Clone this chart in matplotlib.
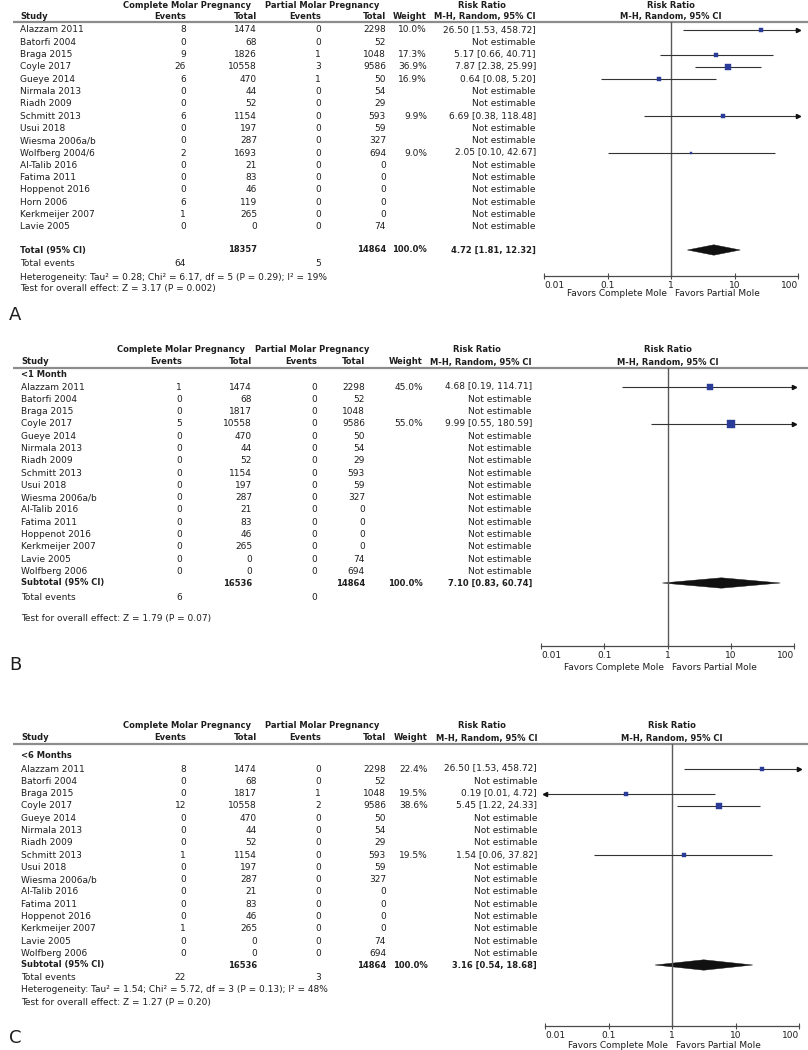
import matplotlib
matplotlib.use("Agg")
import matplotlib.pyplot as plt
from matplotlib.patches import Polygon

# ---------------- DATA ----------------
# Panel A (overall)
a_studies = ["Alazzam 2011", "Batorfi 2004", "Braga 2015", "Coyle 2017", "Gueye 2014",
             "Nirmala 2013", "Riadh 2009", "Schmitt 2013", "Usui 2018", "Wiesma 2006a/b",
             "Wolfberg 2004/6", "Al-Talib 2016", "Fatima 2011", "Hoppenot 2016", "Horn 2006",
             "Kerkmeijer 2007", "Lavie 2005"]
a_ev_c = [8, 0, 9, 26, 6, 0, 0, 6, 0, 0, 2, 0, 0, 0, 6, 1, 0]
a_tot_c = [1474, 68, 1826, 10558, 470, 44, 52, 1154, 197, 287, 1693, 21, 83, 46, 119, 265, 0]
a_ev_p = [0, 0, 1, 3, 1, 0, 0, 0, 0, 0, 0, 0, 0, 0, 0, 0, 0]
a_tot_p = [2298, 52, 1048, 9586, 50, 54, 29, 593, 59, 327, 694, 0, 0, 0, 0, 0, 74]
a_weight = [10.0, None, 17.3, 36.9, 16.9, None, None, 9.9, None, None, 9.0, None, None, None, None, None, None]
a_rr = [26.50, None, 5.17, 7.87, 0.64, None, None, 6.69, None, None, 2.05, None, None, None, None, None, None]
a_lo = [1.53, None, 0.66, 2.38, 0.08, None, None, 0.38, None, None, 0.10, None, None, None, None, None, None]
a_hi = [458.72, None, 40.71, 25.99, 5.20, None, None, 118.48, None, None, 42.67, None, None, None, None, None, None]
a_total = (18357, 14864, 4.72, 1.81, 12.32)
a_events = (64, 5)
a_het = "Heterogeneity: Tau² = 0.28; Chi² = 6.17, df = 5 (P = 0.29); I² = 19%"
a_test = "Test for overall effect: Z = 3.17 (P = 0.002)"

# Panel B (<1 Month)
b_group = "<1 Month"
b_studies = ["Alazzam 2011", "Batorfi 2004", "Braga 2015", "Coyle 2017", "Gueye 2014",
             "Nirmala 2013", "Riadh 2009", "Schmitt 2013", "Usui 2018", "Wiesma 2006a/b",
             "Al-Talib 2016", "Fatima 2011", "Hoppenot 2016", "Kerkmeijer 2007", "Lavie 2005",
             "Wolfberg 2006"]
b_ev_c = [1, 0, 0, 5, 0, 0, 0, 0, 0, 0, 0, 0, 0, 0, 0, 0]
b_tot_c = [1474, 68, 1817, 10558, 470, 44, 52, 1154, 197, 287, 21, 83, 46, 265, 0, 0]
b_ev_p = [0] * 16
b_tot_p = [2298, 52, 1048, 9586, 50, 54, 29, 593, 59, 327, 0, 0, 0, 0, 74, 694]
b_weight = [45.0, None, None, 55.0] + [None] * 12
b_rr = [4.68, None, None, 9.99] + [None] * 12
b_lo = [0.19, None, None, 0.55] + [None] * 12
b_hi = [114.71, None, None, 180.59] + [None] * 12
b_total = (16536, 14864, 7.10, 0.83, 60.74)
b_events = (6, 0)
b_het = None
b_test = "Test for overall effect: Z = 1.79 (P = 0.07)"

# Panel C (<6 Months)
c_group = "<6 Months"
c_studies = list(b_studies)
c_ev_c = [8, 0, 0, 12, 0, 0, 0, 1, 0, 0, 0, 0, 0, 1, 0, 0]
c_tot_c = [1474, 68, 1817, 10558, 470, 44, 52, 1154, 197, 287, 21, 83, 46, 265, 0, 0]
c_ev_p = [0, 0, 1, 2, 0, 0, 0, 0, 0, 0, 0, 0, 0, 0, 0, 0]
c_tot_p = [2298, 52, 1048, 9586, 50, 54, 29, 593, 59, 327, 0, 0, 0, 0, 74, 694]
c_weight = [22.4, None, 19.5, 38.6, None, None, None, 19.5] + [None] * 8
c_rr = [26.50, None, 0.19, 5.45, None, None, None, 1.54] + [None] * 8
c_lo = [1.53, None, 0.01, 1.22, None, None, None, 0.06] + [None] * 8
c_hi = [458.72, None, 4.72, 24.33, None, None, None, 37.82] + [None] * 8
c_total = (16536, 14864, 3.16, 0.54, 18.68)
c_events = (22, 3)
c_het = "Heterogeneity: Tau² = 1.54; Chi² = 5.72, df = 3 (P = 0.13); I² = 48%"
c_test = "Test for overall effect: Z = 1.27 (P = 0.20)"

ticks = [0.01, 0.1, 1, 10, 100]
tick_labels = ["0.01", "0.1", "1", "10", "100"]

# ---------------- DRAWING ----------------
W, H = 808, 1050
fig = plt.figure(figsize=(W / 100, H / 100), dpi=100)
bg = fig.add_axes([0, 0, 1, 1])
bg.set_xlim(0, W)
bg.set_ylim(H, 0)
bg.axis("off")

FS = 6.5
FSB = 6.05
TXT = "#1e1e1e"
BLUE = "#2a3b98"
FAM = "DejaVu Sans"


def t(x, y, s, ha="left", bold=False, size=None):
    if size is None:
        size = FSB if bold else FS
    bg.text(x, y, s, ha=ha, va="center", fontsize=size, color=TXT,
            fontweight="bold" if bold else "normal", family=FAM)


def panel(L, studies, ev_c, tot_c, ev_p, tot_p, weight, rr, lo, hi, total, events,
          het, test, group, total_label, letter):
    # headers
    t(L["g1"], L["h1"], "Complete Molar Pregnancy", ha="center", bold=True)
    t(L["g2"], L["h1"], "Partial Molar Pregnancy", ha="center", bold=True)
    t(L["rc"], L["h1"], "Risk Ratio", ha="center", bold=True)
    t(L["sx"], L["h2"], "Study", bold=True)
    t(L["e1"], L["h2"], "Events", ha="right", bold=True)
    t(L["t1"], L["h2"], "Total", ha="right", bold=True)
    t(L["e2"], L["h2"], "Events", ha="right", bold=True)
    t(L["t2"], L["h2"], "Total", ha="right", bold=True)
    t(L["w"], L["h2"], "Weight", ha="right", bold=True)
    t(L["rr"], L["h2"], "M-H, Random, 95% CI", ha="right", bold=True)
    fx0, fx1 = L["fx"]
    fc = (fx0 + fx1) / 2
    t(fc, L["h1"], "Risk Ratio", ha="center", bold=True)
    t(fc, L["h2"], "M-H, Random, 95% CI", ha="center", bold=True)
    bg.plot([13, W], [L["line"], L["line"]], color="#8c8c8c", lw=1.6, solid_capstyle="butt")
    if group:
        t(L["sx"], L["gy"], group, bold=True)

    # forest axes
    ax = fig.add_axes([fx0 / W, 1 - L["axy"] / H, (fx1 - fx0) / W, (L["axy"] - L["line"]) / H])
    ax.set_xscale("log")
    ax.set_xlim(0.01, 100)
    ax.set_ylim(L["axy"], L["line"])
    ax.patch.set_visible(False)
    for s in ["top", "left", "right"]:
        ax.spines[s].set_visible(False)
    ax.spines["bottom"].set_color("#4a4a4a")
    ax.spines["bottom"].set_linewidth(0.9)
    ax.set_yticks([])
    ax.set_xticks(ticks)
    ax.set_xticklabels(tick_labels, fontsize=FS, color=TXT, family=FAM)
    ax.minorticks_off()
    ax.tick_params(axis="x", direction="inout", length=5, width=0.8, color="#4a4a4a", pad=1)
    labs = ax.get_xticklabels()
    labs[0].set_ha("left")
    labs[-1].set_ha("right")
    ax.axvline(1, color="#5a5a5a", lw=1.0)

    for i, name in enumerate(studies):
        y = L["r0"] + i * L["step"]
        t(L["sx"], y, name)
        t(L["e1"], y, str(ev_c[i]), ha="right")
        t(L["t1"], y, str(tot_c[i]), ha="right")
        t(L["e2"], y, str(ev_p[i]), ha="right")
        t(L["t2"], y, str(tot_p[i]), ha="right")
        if rr[i] is None:
            t(L["rr"], y, "Not estimable", ha="right")
            continue
        t(L["w"], y, f"{weight[i]:.1f}%", ha="right")
        t(L["rr"], y, f"{rr[i]:.2f} [{lo[i]:.2f}, {hi[i]:.2f}]", ha="right")
        l = max(lo[i], 0.01)
        h = min(hi[i], 100)
        ax.plot([l, h], [y, y], color="#333333", lw=0.8, solid_capstyle="butt")
        if hi[i] > 100:
            ax.plot(100, y, marker=">", ms=3, color="#111111", clip_on=False)
        if lo[i] <= 0.01:
            ax.plot(0.01, y, marker="<", ms=3, color="#111111", clip_on=False)
        ax.plot(rr[i], y, marker="s", ms=0.7 * weight[i] ** 0.5, color=BLUE,
                mec=BLUE, mew=0.3, clip_on=False)

    # total row
    ty = L["ty"]
    t(L["sx"], ty, total_label, bold=True)
    t(L["t1"], ty, str(total[0]), ha="right", bold=True)
    t(L["t2"], ty, str(total[1]), ha="right", bold=True)
    t(L["w"], ty, "100.0%", ha="right", bold=True)
    t(L["rr"], ty, f"{total[2]:.2f} [{total[3]:.2f}, {total[4]:.2f}]", ha="right", bold=True)
    est, l, h = total[2], total[3], total[4]
    ax.add_patch(Polygon([(l, ty), (est, ty - 5.2), (h, ty), (est, ty + 5.2)],
                         closed=True, facecolor="#111111", edgecolor="#111111", lw=0.3))

    t(L["sx"], L["evy"], "Total events")
    t(L["e1"], L["evy"], str(events[0]), ha="right")
    t(L["e2"], L["evy"], str(events[1]), ha="right")
    if het:
        t(L["sx"], L["hety"], het)
    t(L["sx"], L["testy"], test)

    # favors labels
    t(fc - 4, L["favy"], "Favors Complete Mole", ha="right")
    t(fc + 4, L["favy"], "Favors Partial Mole", ha="left")

    bg.text(9, L["lety"], letter, ha="left", va="center", fontsize=13, color=TXT, family=FAM)


LA = dict(sx=20, e1=186, t1=257, e2=321, t2=386, w=427, rr=536, rc=482, g1=187, g2=322,
          h1=5, h2=16.5, line=21.5, gy=None, r0=30, step=12.3, fx=(544, 798), axy=276,
          ty=250, evy=264, hety=277, testy=288, favy=293, lety=315)
LB = dict(sx=21, e1=182, t1=252, e2=317, t2=365, w=423, rr=532, rc=477, g1=181, g2=312,
          h1=350, h2=362, line=368, gy=374.5, r0=387, step=12.3, fx=(541, 794), axy=646,
          ty=583, evy=597, hety=None, testy=618, favy=667, lety=665)
LC = dict(sx=21, e1=186, t1=257, e2=321, t2=386, w=428, rr=537, rc=482, g1=187, g2=322,
          h1=725, h2=738, line=744, gy=756, r0=769, step=12.3, fx=(545, 799), axy=1026,
          ty=965, evy=978, hety=990, testy=1002, favy=1045, lety=1038)

panel(LA, a_studies, a_ev_c, a_tot_c, a_ev_p, a_tot_p, a_weight, a_rr, a_lo, a_hi,
      a_total, a_events, a_het, a_test, None, "Total (95% CI)", "A")
panel(LB, b_studies, b_ev_c, b_tot_c, b_ev_p, b_tot_p, b_weight, b_rr, b_lo, b_hi,
      b_total, b_events, b_het, b_test, b_group, "Subtotal (95% CI)", "B")
panel(LC, c_studies, c_ev_c, c_tot_c, c_ev_p, c_tot_p, c_weight, c_rr, c_lo, c_hi,
      c_total, c_events, c_het, c_test, c_group, "Subtotal (95% CI)", "C")

fig.savefig("out.png", dpi=100)
